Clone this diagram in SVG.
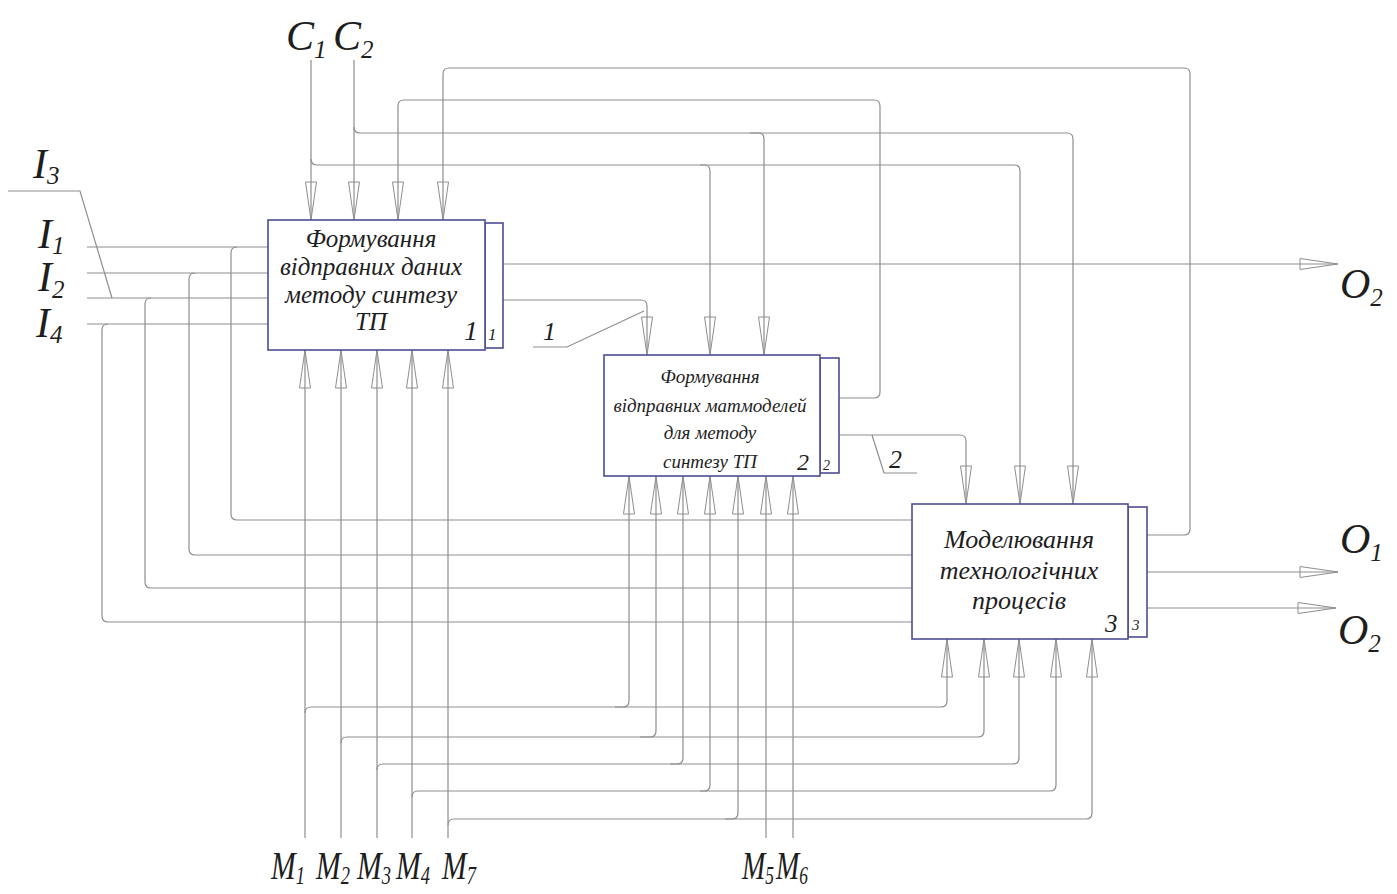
<svg xmlns="http://www.w3.org/2000/svg" width="1397" height="894" viewBox="0 0 1397 894">
<style>
.bg{fill:#ffffff}
.box{fill:#ffffff;stroke:#4d4d94;stroke-width:1.6}
.c{fill:none;stroke:#8e8e8e;stroke-width:1.2}
.t{font-family:"Liberation Serif","Times New Roman",serif;font-style:italic;fill:#1e1e1e}
.bt{font-size:25px;text-anchor:middle}
.bt2{font-size:19px;text-anchor:middle}
.bt3{font-size:26px;text-anchor:middle}
.lbl{font-size:42px}
.sub{font-size:25px}
</style>
<defs>
<marker id="a" markerUnits="userSpaceOnUse" markerWidth="42" markerHeight="14" viewBox="-2 -7 42 14" refX="38" refY="0" orient="auto" overflow="visible">
<path d="M0,-5.5 L38,0 L0,5.5 Z" fill="none" stroke="#8e8e8e" stroke-width="1"/>
</marker>
</defs>
<rect class="bg" x="0" y="0" width="1397" height="894"/>

<g id="connectors">
<!-- C1 -->
<path class="c" d="M311,60 V220" marker-end="url(#a)"/>
<path class="c" d="M311,159 Q311,165 317,165 H704 Q710,165 710,171 V355" marker-end="url(#a)"/>
<path class="c" d="M700,165 H1014 Q1020,165 1020,171 V504" marker-end="url(#a)"/>
<!-- C2 -->
<path class="c" d="M354,60 V220" marker-end="url(#a)"/>
<path class="c" d="M354,127 Q354,133 360,133 H758 Q764,133 764,139 V355" marker-end="url(#a)"/>
<path class="c" d="M750,133 H1067 Q1073,133 1073,139 V504" marker-end="url(#a)"/>
<!-- feedback from box 2 -->
<path class="c" d="M839,398 H874 Q880,398 880,392 V106 Q880,100 874,100 H404 Q398,100 398,106 V220" marker-end="url(#a)"/>
<!-- feedback from box 3 -->
<path class="c" d="M1147,535 H1184 Q1190,535 1190,529 V74 Q1190,68 1184,68 H449 Q443,68 443,74 V220" marker-end="url(#a)"/>
<!-- outputs -->
<path class="c" d="M503,264 H1338" marker-end="url(#a)"/>
<path class="c" d="M503,300 H641 Q647,300 647,306 V355" marker-end="url(#a)"/>
<path class="c" d="M839,435 H960 Q966,435 966,441 V504" marker-end="url(#a)"/>
<path class="c" d="M1147,572 H1338" marker-end="url(#a)"/>
<path class="c" d="M1147,608 H1336" marker-end="url(#a)"/>
<!-- inputs I -->
<path class="c" d="M87,247 H268"/>
<path class="c" d="M87,273 H268"/>
<path class="c" d="M87,298 H268"/>
<path class="c" d="M87,324 H268"/>
<path class="c" d="M237,247 Q231,247 231,253 V514 Q231,520 237,520 H912"/>
<path class="c" d="M195,273 Q189,273 189,279 V549 Q189,555 195,555 H912"/>
<path class="c" d="M151,298 Q145,298 145,304 V582 Q145,588 151,588 H912"/>
<path class="c" d="M108,324 Q102,324 102,330 V616 Q102,622 108,622 H912"/>
<!-- I3 leader -->
<path class="c" d="M8,191 H80 L112,298"/>
<!-- leaders 1 and 2 -->
<path class="c" d="M533,347 H567 L644,311"/>
<path class="c" d="M872,435 L884,473 H917"/>
<!-- mechanisms M -->
<path class="c" d="M305,838 V350" marker-end="url(#a)"/>
<path class="c" d="M305,713 Q305,707 311,707 H623 Q629,707 629,701 V476" marker-end="url(#a)"/>
<path class="c" d="M615,707 H941 Q947,707 947,701 V639" marker-end="url(#a)"/>
<path class="c" d="M341,838 V350" marker-end="url(#a)"/>
<path class="c" d="M341,743 Q341,737 347,737 H650 Q656,737 656,731 V476" marker-end="url(#a)"/>
<path class="c" d="M640,737 H978 Q984,737 984,731 V639" marker-end="url(#a)"/>
<path class="c" d="M377,838 V350" marker-end="url(#a)"/>
<path class="c" d="M377,770 Q377,764 383,764 H677 Q683,764 683,758 V476" marker-end="url(#a)"/>
<path class="c" d="M670,764 H1013 Q1019,764 1019,758 V639" marker-end="url(#a)"/>
<path class="c" d="M412,838 V350" marker-end="url(#a)"/>
<path class="c" d="M412,797 Q412,791 418,791 H704 Q710,791 710,785 V476" marker-end="url(#a)"/>
<path class="c" d="M700,791 H1050 Q1056,791 1056,785 V639" marker-end="url(#a)"/>
<path class="c" d="M448,838 V350" marker-end="url(#a)"/>
<path class="c" d="M448,825 Q448,819 454,819 H732 Q738,819 738,813 V476" marker-end="url(#a)"/>
<path class="c" d="M725,819 H1086 Q1092,819 1092,813 V639" marker-end="url(#a)"/>
<path class="c" d="M766,838 V476" marker-end="url(#a)"/>
<path class="c" d="M793,838 V476" marker-end="url(#a)"/>
</g>

<g id="node1">
<rect class="box" x="485" y="223" width="18" height="125"/>
<rect class="box" x="268" y="220" width="217" height="130"/>
<text class="t bt" x="371" y="247">Формування</text>
<text class="t bt" x="371" y="275">відправних даних</text>
<text class="t bt" x="371" y="303">методу синтезу</text>
<text class="t bt" x="371" y="330">ТП</text>
<text class="t" x="464" y="340" font-size="28">1</text>
<text class="t" x="488" y="340" font-size="17">1</text>
</g>

<g id="node2">
<rect class="box" x="820" y="358" width="19" height="115"/>
<rect class="box" x="604" y="355" width="216" height="121"/>
<text class="t bt2" x="710" y="383">Формування</text>
<text class="t bt2" x="710" y="412">відправних матмоделей</text>
<text class="t bt2" x="710" y="439">для методу</text>
<text class="t bt2" x="710" y="468">синтезу ТП</text>
<text class="t" x="797" y="470" font-size="24">2</text>
<text class="t" x="823" y="470" font-size="14">2</text>
</g>

<g id="node3">
<rect class="box" x="1128" y="507" width="19" height="130"/>
<rect class="box" x="912" y="504" width="216" height="135"/>
<text class="t bt3" x="1019" y="548">Моделювання</text>
<text class="t bt3" x="1019" y="579">технологічних</text>
<text class="t bt3" x="1019" y="609">процесів</text>
<text class="t" x="1105" y="632" font-size="25">3</text>
<text class="t" x="1132" y="630" font-size="15">3</text>
</g>

<g id="labels">
<text class="t lbl" x="286" y="50">C<tspan class="sub" dy="8">1</tspan></text>
<text class="t lbl" x="333" y="50">C<tspan class="sub" dy="8">2</tspan></text>
<text class="t lbl" x="33" y="178">I<tspan class="sub" dy="6">3</tspan></text>
<text class="t lbl" x="38" y="248">I<tspan class="sub" dy="6">1</tspan></text>
<text class="t lbl" x="38" y="291">I<tspan class="sub" dy="7">2</tspan></text>
<text class="t lbl" x="36" y="337">I<tspan class="sub" dy="6">4</tspan></text>
<text class="t lbl" x="1340" y="298">O<tspan class="sub" dy="8">2</tspan></text>
<text class="t lbl" x="1340" y="553">O<tspan class="sub" dy="8">1</tspan></text>
<text class="t lbl" x="1338" y="644">O<tspan class="sub" dy="8">2</tspan></text>
<text class="t" x="543" y="340" font-size="26">1</text>
<text class="t" x="889" y="468" font-size="26">2</text>
<text class="t" font-size="40" transform="translate(271,879) scale(0.74,1)">M<tspan class="sub" dy="5">1</tspan></text>
<text class="t" font-size="40" transform="translate(316,879) scale(0.74,1)">M<tspan class="sub" dy="5">2</tspan></text>
<text class="t" font-size="40" transform="translate(357,879) scale(0.74,1)">M<tspan class="sub" dy="5">3</tspan></text>
<text class="t" font-size="40" transform="translate(396,879) scale(0.74,1)">M<tspan class="sub" dy="5">4</tspan></text>
<text class="t" font-size="40" transform="translate(442,879) scale(0.74,1)">M<tspan class="sub" dy="5">7</tspan></text>
<text class="t" font-size="40" transform="translate(742,879) scale(0.7,1)">M<tspan class="sub" dy="5">5</tspan></text>
<text class="t" font-size="40" transform="translate(776,879) scale(0.7,1)">M<tspan class="sub" dy="5">6</tspan></text>
</g>
</svg>
